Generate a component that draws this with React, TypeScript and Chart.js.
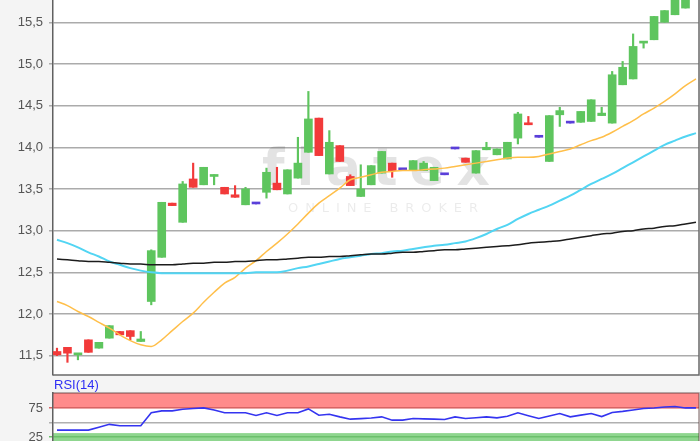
import React, { useEffect, useRef } from 'react';
import { Chart, registerables } from 'chart.js';

Chart.register(...registerables);

// ---- price candles (61 sessions) ----
const opens = [11.55, 11.60, 11.51, 11.69, 11.59, 11.71, 11.79, 11.80, 11.67, 12.15, 12.68, 13.33, 13.10, 13.62, 13.55, 13.65, 13.52, 13.43, 13.31, 13.32, 13.46, 13.57, 13.44, 13.63, 13.94, 14.35, 13.68, 14.02, 13.65, 13.41, 13.55, 13.69, 13.81, 13.73, 13.72, 13.72, 13.60, 13.67, 13.98, 13.87, 13.69, 13.97, 13.91, 13.86, 14.11, 14.29, 14.12, 13.83, 14.39, 14.29, 14.30, 14.31, 14.38, 14.29, 14.75, 14.82, 15.25, 15.29, 15.50, 15.59, 15.67];
const closes = [11.51, 11.53, 11.52, 11.54, 11.66, 11.86, 11.75, 11.73, 11.70, 12.76, 13.34, 13.30, 13.56, 13.52, 13.76, 13.67, 13.44, 13.40, 13.50, 13.32, 13.70, 13.49, 13.73, 13.81, 14.34, 13.90, 14.06, 13.83, 13.54, 13.50, 13.78, 13.95, 13.72, 13.73, 13.84, 13.81, 13.76, 13.67, 13.98, 13.82, 13.96, 14.00, 13.98, 14.06, 14.40, 14.27, 14.12, 14.38, 14.44, 14.29, 14.43, 14.57, 14.41, 14.87, 14.96, 15.21, 15.27, 15.57, 15.64, 15.80, 15.85];
const highs = [11.59, 11.60, 11.52, 11.69, 11.66, 11.86, 11.79, 11.80, 11.79, 12.77, 13.34, 13.33, 13.59, 13.81, 13.76, 13.67, 13.52, 13.54, 13.52, 13.32, 13.75, 13.76, 13.73, 14.12, 14.67, 14.35, 14.20, 14.02, 13.67, 13.79, 13.78, 13.95, 13.81, 13.73, 13.84, 13.83, 13.76, 13.67, 13.98, 13.87, 13.96, 14.06, 13.98, 14.06, 14.42, 14.37, 14.12, 14.38, 14.48, 14.29, 14.43, 14.57, 14.48, 14.91, 15.03, 15.36, 15.27, 15.57, 15.64, 15.80, 15.85];
const lows = [11.50, 11.42, 11.45, 11.54, 11.59, 11.71, 11.75, 11.69, 11.67, 12.11, 12.68, 13.30, 13.10, 13.52, 13.55, 13.55, 13.44, 13.40, 13.31, 13.32, 13.39, 13.49, 13.44, 13.63, 13.94, 13.90, 13.68, 13.83, 13.54, 13.41, 13.55, 13.69, 13.64, 13.73, 13.72, 13.72, 13.60, 13.67, 13.98, 13.82, 13.69, 13.97, 13.91, 13.86, 14.04, 14.27, 14.12, 13.83, 14.25, 14.29, 14.30, 14.31, 14.38, 14.29, 14.75, 14.82, 15.19, 15.29, 15.50, 15.59, 15.67];

// ---- moving averages (62 points) ----
const maShort = [12.15, 12.10, 12.03, 11.97, 11.90, 11.83, 11.75, 11.68, 11.63, 11.61, 11.69, 11.80, 11.91, 12.01, 12.14, 12.26, 12.37, 12.44, 12.55, 12.64, 12.75, 12.85, 12.96, 13.08, 13.21, 13.33, 13.42, 13.51, 13.61, 13.64, 13.67, 13.70, 13.71, 13.72, 13.72, 13.73, 13.74, 13.75, 13.77, 13.79, 13.81, 13.83, 13.85, 13.87, 13.88, 13.88, 13.89, 13.92, 13.95, 13.98, 14.03, 14.08, 14.12, 14.18, 14.25, 14.32, 14.40, 14.47, 14.55, 14.64, 14.74, 14.82];
const maMid = [12.89, 12.85, 12.80, 12.74, 12.69, 12.63, 12.59, 12.55, 12.52, 12.50, 12.49, 12.49, 12.49, 12.49, 12.49, 12.49, 12.49, 12.49, 12.49, 12.50, 12.50, 12.50, 12.52, 12.55, 12.57, 12.60, 12.63, 12.66, 12.68, 12.70, 12.72, 12.73, 12.75, 12.76, 12.78, 12.80, 12.82, 12.83, 12.85, 12.87, 12.91, 12.96, 13.02, 13.07, 13.14, 13.20, 13.25, 13.30, 13.36, 13.42, 13.49, 13.56, 13.62, 13.68, 13.75, 13.82, 13.89, 13.96, 14.03, 14.08, 14.13, 14.17];
const maLong = [12.66, 12.65, 12.64, 12.63, 12.63, 12.62, 12.61, 12.60, 12.60, 12.59, 12.59, 12.59, 12.60, 12.61, 12.61, 12.62, 12.62, 12.63, 12.63, 12.64, 12.65, 12.65, 12.66, 12.67, 12.68, 12.68, 12.69, 12.69, 12.70, 12.71, 12.72, 12.72, 12.73, 12.74, 12.74, 12.75, 12.76, 12.77, 12.77, 12.78, 12.79, 12.80, 12.81, 12.82, 12.83, 12.85, 12.86, 12.87, 12.88, 12.90, 12.92, 12.94, 12.96, 12.97, 12.99, 13.00, 13.02, 13.03, 13.05, 13.06, 13.08, 13.10];

// ---- RSI(14) (62 points) ----
const rsi = [37, 37, 37, 37, 42, 47, 44.5, 44.5, 44.5, 67, 70.4, 70.4, 73.3, 74.5, 75.5, 72, 67, 67, 67, 62.4, 67, 62.4, 67, 67, 73.8, 62.9, 64.6, 60, 56, 57, 58, 60, 54.3, 54.3, 57.2, 56.5, 56, 55.5, 60, 57.2, 58.5, 60, 58.3, 61, 67, 62, 57.2, 61.5, 65.9, 60, 63, 65.9, 60.5, 67.5, 69.5, 72, 74.5, 75.5, 77, 78, 75.5, 75.5];

const priceTicks = [11.5, 12.0, 12.5, 13.0, 13.5, 14.0, 14.5, 15.0, 15.5];
const rsiTicks = [25, 50, 75];
const rsiLabel = 'RSI(14)';
const watermarkMain = 'flatex';
const watermarkSub = 'ONLINE BROKER';

const GREEN = '#5ec55e';
const RED = '#f23a3a';
const DOJI = '#5a3fd9';
const BG = '#f4f4f4';
const FONT = 'Arial, "Liberation Sans", sans-serif';

const candleColor = (i: number) =>
  closes[i] > opens[i] ? GREEN : closes[i] < opens[i] ? RED : DOJI;

const bgPlugin = {
  id: 'bgPlugin',
  beforeDraw(chart: any) {
    const { ctx, chartArea: a, width, height } = chart;
    ctx.save();
    ctx.fillStyle = BG;
    ctx.fillRect(0, 0, width, height);
    ctx.fillStyle = '#ffffff';
    ctx.fillRect(a.left, a.top, a.right - a.left, a.bottom - a.top);
    ctx.restore();
  },
};

function drawSpaced(ctx: CanvasRenderingContext2D, text: string, font: string, x0: number, x1: number, y: number) {
  ctx.font = font;
  const chars = Array.from(text);
  const widths = chars.map((c) => ctx.measureText(c).width);
  const total = widths.reduce((s, w) => s + w, 0);
  const gap = (x1 - x0 - total) / (chars.length - 1);
  let x = x0;
  chars.forEach((c, i) => {
    ctx.fillText(c, x, y);
    x += widths[i] + gap;
  });
}

const watermarkPlugin = {
  id: 'watermark',
  beforeDatasetsDraw(chart: any) {
    const { ctx } = chart;
    ctx.save();
    ctx.textBaseline = 'alphabetic';
    ctx.textAlign = 'left';
    ctx.fillStyle = 'rgba(0,0,0,0.11)';
    drawSpaced(ctx, watermarkMain, 'bold 52px "DejaVu Sans", sans-serif', 262, 490, 185);
    ctx.fillStyle = 'rgba(0,0,0,0.08)';
    drawSpaced(ctx, watermarkSub, '13px "DejaVu Sans", sans-serif', 288, 478, 212);
    ctx.restore();
  },
};

const mainFrame = {
  id: 'mainFrame',
  afterDraw(chart: any) {
    const { ctx, chartArea: a } = chart;
    ctx.save();
    ctx.strokeStyle = '#6a6a6a';
    ctx.lineWidth = 1.5;
    ctx.beginPath();
    ctx.moveTo(a.left, a.bottom);
    ctx.lineTo(a.right, a.bottom);
    ctx.lineTo(a.right, a.top);
    ctx.stroke();
    ctx.restore();
  },
};

const rsiDecor = {
  id: 'rsiDecor',
  beforeDatasetsDraw(chart: any) {
    // nothing
  },
  beforeDraw(chart: any) {
    const { ctx, chartArea: a } = chart;
    const y = chart.scales.y;
    ctx.save();
    const y75 = y.getPixelForValue(75);
    ctx.fillStyle = '#ff8b8b';
    ctx.fillRect(a.left, a.top, a.right - a.left, y75 - a.top);
    const y32 = y.getPixelForValue(31.8);
    ctx.fillStyle = '#8fd68f';
    ctx.fillRect(a.left, y32, a.right - a.left, a.bottom - y32);
    ctx.restore();
  },
  afterDraw(chart: any) {
    const { ctx, chartArea: a } = chart;
    ctx.save();
    ctx.strokeStyle = 'rgba(90,60,60,0.55)';
    ctx.lineWidth = 1.5;
    ctx.beginPath();
    ctx.moveTo(a.left, a.top);
    ctx.lineTo(a.right, a.top);
    ctx.lineTo(a.right, a.bottom);
    ctx.stroke();
    ctx.fillStyle = '#2f2ff5';
    ctx.font = '13px ' + FONT;
    ctx.textAlign = 'left';
    ctx.textBaseline = 'alphabetic';
    ctx.fillText(rsiLabel, 54, 12);
    ctx.restore();
  },
};

export default function App() {
  const mainRef = useRef<HTMLCanvasElement>(null);
  const rsiRef = useRef<HTMLCanvasElement>(null);

  useEffect(() => {
    document.body.style.margin = '0';
    const idx = opens.map((_, i) => i);
    const colors = idx.map(candleColor);

    const main = new Chart(mainRef.current as HTMLCanvasElement, {
      type: 'bar',
      data: {
        datasets: [
          {
            type: 'line',
            data: maLong.map((v, i) => ({ x: i, y: v })),
            borderColor: '#1c1c1c',
            borderWidth: 1.5,
            pointRadius: 0,
            cubicInterpolationMode: 'monotone',
            order: 1,
          } as any,
          {
            type: 'line',
            data: maMid.map((v, i) => ({ x: i, y: v })),
            borderColor: '#52d5f3',
            borderWidth: 2,
            pointRadius: 0,
            cubicInterpolationMode: 'monotone',
            order: 1,
          },
          {
            type: 'line',
            data: maShort.map((v, i) => ({ x: i, y: v })),
            borderColor: '#ffbf4a',
            borderWidth: 1.5,
            pointRadius: 0,
            cubicInterpolationMode: 'monotone',
            order: 1,
          },
          {
            type: 'bar',
            data: idx.map((i) => ({ x: i, y: [opens[i], closes[i]] })),
            backgroundColor: colors,
            barThickness: 8,
            minBarLength: 2,
            grouped: false,
            order: 2,
          },
          {
            type: 'bar',
            data: idx.map((i) => ({ x: i, y: [lows[i], highs[i]] })),
            backgroundColor: colors,
            barThickness: 1.5,
            grouped: false,
            order: 3,
          },
        ] as any,
      },
      options: {
        animation: false,
        responsive: false,
        maintainAspectRatio: false,
        devicePixelRatio: 1,
        layout: { padding: { top: 0, right: 1, bottom: 2, left: 0 } },
        plugins: { legend: { display: false }, tooltip: { enabled: false } },
        scales: {
          x: { type: 'linear', min: -0.38, max: 61.29, display: false, offset: false },
          y: {
            min: 11.268,
            max: 15.767,
            afterBuildTicks: (s: any) => {
              s.ticks = priceTicks.map((v) => ({ value: v }));
            },
            afterFit: (s: any) => {
              s.width = 53;
              s.paddingTop = 0;
              s.paddingBottom = 0;
            },
            ticks: {
              autoSkip: false,
              padding: 6,
              color: '#555555',
              font: { family: FONT, size: 13 },
              callback: (v: any) => Number(v).toFixed(1).replace('.', ','),
            },
            grid: { color: '#ababab', lineWidth: 1.5, tickLength: 4, drawTicks: true },
            border: { display: true, color: '#606060', width: 1.5 },
          },
        },
      } as any,
      plugins: [bgPlugin, watermarkPlugin, mainFrame],
    });

    const rsiChart = new Chart(rsiRef.current as HTMLCanvasElement, {
      type: 'line',
      data: {
        datasets: [
          {
            data: rsi.map((v, i) => ({ x: i, y: v })),
            borderColor: '#3434f0',
            borderWidth: 1.6,
            pointRadius: 0,
          },
        ],
      },
      options: {
        animation: false,
        responsive: false,
        maintainAspectRatio: false,
        devicePixelRatio: 1,
        layout: { padding: { top: 16, right: 1, bottom: 0, left: 0 } },
        plugins: { legend: { display: false }, tooltip: { enabled: false } },
        scales: {
          x: { type: 'linear', min: -0.38, max: 61.29, display: false },
          y: {
            min: 18.1,
            max: 101.4,
            afterBuildTicks: (s: any) => {
              s.ticks = rsiTicks.map((v) => ({ value: v }));
            },
            afterFit: (s: any) => {
              s.width = 53;
              s.paddingTop = 0;
              s.paddingBottom = 0;
            },
            ticks: {
              autoSkip: false,
              padding: 6,
              color: '#555555',
              font: { family: FONT, size: 13 },
              callback: (v: any) => (v === 50 ? '' : String(v)),
            },
            grid: {
              color: (c: any) =>
                c.tick && c.tick.value === 75 ? '#d86464' : c.tick && c.tick.value === 25 ? '#6cc06c' : '#b0b0b0',
              lineWidth: 1.5,
              tickLength: 4,
              drawTicks: true,
            },
            border: { display: true, color: '#606060', width: 1.5 },
          },
        },
      } as any,
      plugins: [bgPlugin, rsiDecor],
    });

    return () => {
      main.destroy();
      rsiChart.destroy();
    };
  }, []);

  return (
    <div style={{ width: 700, height: 441, background: BG, overflow: 'hidden' }}>
      <canvas ref={mainRef} width={700} height={377} style={{ display: 'block', width: 700, height: 377 }} />
      <canvas ref={rsiRef} width={700} height={64} style={{ display: 'block', width: 700, height: 64 }} />
    </div>
  );
}
